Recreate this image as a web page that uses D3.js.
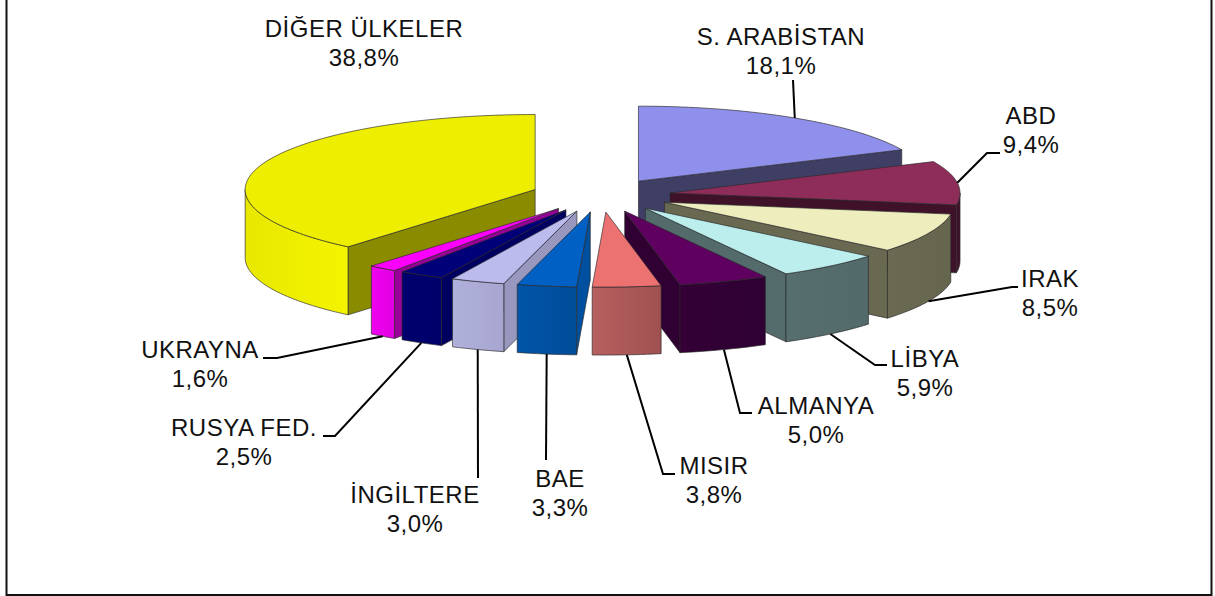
<!DOCTYPE html>
<html lang="tr">
<head>
  <meta charset="UTF-8">
  <title>Ülkeler</title>
  <style>
    html, body{ margin: 0; padding: 0; background: #fff; }
    svg{ display: block; }
    text{ font-family: "Liberation Sans", Arial, sans-serif; font-size: 24px; letter-spacing: 0.5px; fill: #111; text-anchor: middle; }
  </style>
</head>
<body>
  <script src="https://cdn.jsdelivr.net/npm/d3@7"></script>
  <script>
    const countries = ['S. ARABİSTAN', 'ABD', 'IRAK', 'LİBYA', 'ALMANYA', 'MISIR', 'BAE', 'İNGİLTERE', 'RUSYA FED.', 'UKRAYNA', 'DİĞER ÜLKELER'];
    const shares = [18.1, 9.4, 8.5, 5.9, 5.0, 3.8, 3.3, 3.0, 2.5, 1.6, 38.8];

    const topColors = ['#8f8fec', '#8e2c5a', '#eeedbe', '#bceeee', '#5f0060', '#ec7272', '#0060c4', '#bbbbee', '#000078', '#ff00ff', '#eeee00'];
    const cutColors = ['#3f3f66', '#40122a', '#696850', '#536b6b', '#300033', '#a05050', '#00509f', '#9898bf', '#000060', '#990099', '#8b8b00'];
    const rimLeft = ['#3f3f66', '#40122a', '#6a6952', '#566e6e', '#340036', '#b86060', '#0055a8', '#b0b0dc', '#00006e', '#f000f0', '#e8e800'];
    const rimRight = ['#3f3f66', '#40122a', '#66654d', '#526a6a', '#2e0033', '#a05050', '#004c98', '#a6a6d0', '#00006a', '#e000e0', '#f4f400'];

    // label centre and baselines, leader knee and end
    const labelX = [781, 1031, 1050, 925, 816, 714, 560, 415, 244, 200, 364];
    const labelY = [45, 124, 287, 367, 414, 474, 487, 503, 436, 358, 37];
    const leaderEnds = [
      [[793, 80]], [[987, 153], [1000, 153]], [[1012, 287], [1018, 287]], [[875, 365], [887, 365]],
      [[740, 413], [752, 413]], [[663, 474], [675, 474]], [[546, 460]], [[478, 478]],
      [[335, 436], [323, 436]], [[277, 358], [263, 358]], []
    ];

    const w = 1215, h = 596;
    const depth = 68;
    const explodeX = 0.241, explodeY = 0.224;

    // unit circle to page, tilted pie
    const xs = d3.scaleLinear().domain([-1, 1]).range([310.8, 890.8]);
    const ys = d3.scaleLinear().domain([1, -1]).range([120.3, 270.3]);

    const svg = d3.select('body').append('svg').attr('width', w).attr('height', h);
    const defs = svg.append('defs');

    // frame has no top edge
    svg.append('path').attr('d', `M6.5,0V595H1211.5V0`).attr('fill', 'none').attr('stroke', '#111').attr('stroke-width', 2);

    const pie = d3.pie().sort(null).value(d => d);
    const arcs = pie(shares).map((d, i) => {
      d.i = i;
      d.mid = (d.startAngle + d.endAngle) / 2;
      return d;
    });

    const pointAt = (d, a, r = 1, drop = 0) => [
      xs(r * Math.sin(a) + explodeX * Math.sin(d.mid)),
      ys(r * Math.cos(a) + explodeY * Math.cos(d.mid)) + drop
    ];
    const rimAngles = (a0, a1) => {
      const n = Math.max(2, Math.ceil((a1 - a0) * 40));
      return d3.range(n + 1).map(k => a0 + (a1 - a0) * k / n);
    };
    const line = d3.line();
    const edge = { stroke: '#2a2a2a', opacity: 0.65 };

    function face(g, pts, fill){
      g.append('path').attr('d', line(pts) + 'Z')
        .attr('fill', fill)
        .attr('stroke', edge.stroke).attr('stroke-opacity', edge.opacity)
        .attr('stroke-width', 1).attr('stroke-linejoin', 'round');
    }

    // back slices first
    const PI = Math.PI;
    const order = arcs.slice().sort((a, b) => Math.abs(PI - b.mid) - Math.abs(PI - a.mid));

    order.forEach(d => {
      const g = svg.append('g');
      const i = d.i;
      const apex = pointAt(d, 0, 0);
      const apexLow = [apex[0], apex[1] + depth];

      if(d.endAngle < PI){
        const p = pointAt(d, d.endAngle);
        face(g, [apex, p, [p[0], p[1] + depth], apexLow], cutColors[i]);
      }
      if(d.startAngle > PI){
        const p = pointAt(d, d.startAngle);
        face(g, [apex, p, [p[0], p[1] + depth], apexLow], cutColors[i]);
      }

      const a0 = Math.max(d.startAngle, PI / 2), a1 = Math.min(d.endAngle, 3 * PI / 2);
      if(a1 > a0){
        const grad = defs.append('linearGradient').attr('id', 'rim' + i);
        grad.append('stop').attr('offset', 0).attr('stop-color', rimLeft[i]);
        grad.append('stop').attr('offset', 1).attr('stop-color', rimRight[i]);
        const upper = rimAngles(a0, a1).map(a => pointAt(d, a));
        const lower = upper.map(p => [p[0], p[1] + depth]).reverse();
        face(g, upper.concat(lower), `url(#rim${i})`);
      }

      const topPts = [apex].concat(rimAngles(d.startAngle, d.endAngle).map(a => pointAt(d, a)));
      face(g, topPts, topColors[i]);
    });

    // leaders start on the slice edge at mid angle
    arcs.forEach(d => {
      const ends = leaderEnds[d.i];
      if(!ends.length) return;
      const front = Math.cos(d.mid) < 0;
      const start = pointAt(d, d.mid, 1, front ? depth : 0);
      svg.append('path').attr('d', line([start].concat(ends)))
        .attr('fill', 'none').attr('stroke', '#000').attr('stroke-width', 2);
    });

    const lineGap = 29;
    const fmt = v => v.toFixed(1).replace('.', ',') + '%';
    countries.forEach((name, i) => {
      svg.append('text').attr('x', labelX[i]).attr('y', labelY[i]).text(name);
      svg.append('text').attr('x', labelX[i]).attr('y', labelY[i] + lineGap).text(fmt(shares[i]));
    });
  </script>
</body>
</html>
